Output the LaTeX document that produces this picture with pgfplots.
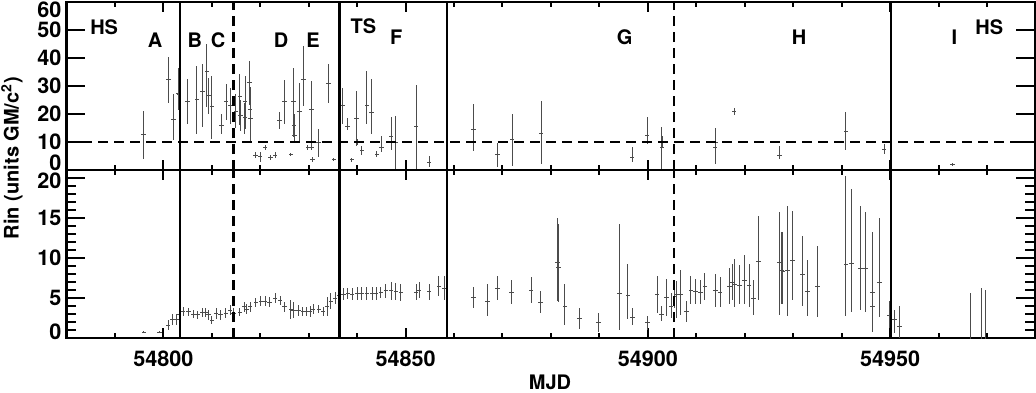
\documentclass[border=0pt]{standalone}
\usepackage{pgfplots}
\pgfplotsset{compat=1.18}
\usepackage{pgfplotstable}
\usepackage{fontspec}
\setmainfont{TeX Gyre Heros}

\pgfplotstableread{
x y ex ep em
54795.9 12.6 0.45 8.6 8.7
54801.1 32.4 0.45 7.9 8.3
54802.1 18.0 0.45 9.1 7.4
54803.1 27.5 0.45 8.8 6.1
54803.3 27.0 0.45 9.0 5.0
54805.0 24.5 0.45 7.9 8.0
54806.9 25.3 0.45 11.8 12.3
54808.1 27.9 0.45 9.8 12.6
54809.0 35.3 0.45 9.6 12.9
54809.3 26.5 0.45 6.5 6.5
54810.0 22.6 0.45 11.0 11.4
54812.0 15.9 0.45 4.1 2.9
54813.0 24.4 0.45 6.2 6.7
54813.9 23.0 0.45 6.4 6.5
54815.0 21.0 0.45 6.0 6.0
54815.8 26.3 0.45 7.9 10.4
54815.9 19.5 0.45 5.5 5.5
54816.9 24.4 0.45 9.2 9.7
54816.8 18.6 0.45 5.4 5.6
54817.8 31.2 0.45 7.9 8.0
54817.9 21.5 0.45 8.0 8.0
54818.0 18.3 0.45 8.7 8.3
54819.0 5.3 0.45 1.0 1.0
54820.0 4.7 0.45 1.8 1.8
54821.0 8.0 0.45 1.0 1.0
54822.1 4.4 0.45 0.8 0.8
54823.1 5.3 0.45 1.0 1.0
54824.0 17.7 0.45 2.9 3.0
54825.0 24.4 0.45 7.6 7.9
54826.3 5.6 0.45 0.5 0.5
54826.9 24.6 0.45 11.7 12.8
54827.0 16.0 0.45 4.0 4.0
54827.1 12.4 0.45 2.0 2.0
54828.1 20.8 0.45 10.4 10.8
54828.9 32.4 0.45 11.8 9.4
54829.8 8.0 0.45 1.0 1.0
54830.6 21.5 0.45 10.3 12.1
54830.6 8.2 0.45 1.0 1.0
54830.8 3.8 0.45 1.0 1.0
54832.0 10.0 0.45 4.8 5.3
54834.1 30.8 0.45 6.9 6.7
54835.2 3.8 0.45 0.6 0.6
54837.0 23.0 0.45 6.4 6.5
54838.0 15.7 0.45 2.9 1.3
54838.9 3.6 0.45 0.6 0.6
54839.9 18.5 0.45 9.8 10.1
54840.0 10.0 0.45 1.0 1.0
54841.0 7.0 0.45 1.5 1.5
54842.0 23.0 0.45 12.5 6.5
54843.0 20.5 0.45 12.0 7.5
54844.1 5.7 0.45 1.0 1.0
54845.0 8.2 0.45 4.0 1.8
54847.0 12.1 0.45 6.8 5.0
54848.0 10.0 0.45 9.2 10.0
54852.2 15.4 0.45 14.8 15.4
54854.9 2.7 0.45 2.3 1.6
54864.0 14.5 0.45 9.1 7.7
54869.0 5.6 0.45 4.1 4.4
54872.0 10.8 0.45 9.2 9.3
54878.0 13.0 0.45 11.7 11.0
54896.8 4.4 0.45 3.8 1.7
54899.9 12.4 0.45 6.7 3.0
54902.9 8.2 0.45 7.1 8.2
54903.1 10.0 0.45 2.0 2.0
54913.9 8.2 0.45 6.8 5.9
54914.0 10.0 0.45 3.0 3.0
54917.8 20.8 0.45 1.2 1.2
54927.2 5.3 0.45 3.2 1.5
54940.9 13.8 0.45 6.8 6.8
54948.8 7.4 0.45 2.0 1.8
54962.9 2.0 0.45 0.6 0.6
}\topdata

\pgfplotstableread{
x y ex ep em
54796.0 0.75 0.45 0.1 0.1
54799.2 0.75 0.45 0.15 0.15
54801.0 1.6 0.45 0.6 0.6
54801.9 2.3 0.45 0.7 0.7
54802.7 2.3 0.45 0.7 0.7
54803.3 3.0 0.45 0.8 0.8
54804.1 3.3 0.45 0.6 0.6
54805.2 3.3 0.45 0.5 0.5
54806.2 3.0 0.45 0.5 0.5
54807.1 2.9 0.45 0.5 0.5
54808.1 3.2 0.45 0.6 0.6
54808.8 3.2 0.45 0.6 0.6
54809.3 2.9 0.45 0.6 0.6
54810.0 2.2 0.45 0.5 0.5
54810.9 3.1 0.45 0.7 0.7
54811.8 2.9 0.45 0.6 0.6
54812.9 3.1 0.45 0.6 0.6
54813.8 3.5 0.45 0.6 0.6
54814.5 3.1 0.45 0.6 0.6
54815.8 3.2 0.45 0.5 0.5
54816.7 3.9 0.45 0.6 0.6
54817.2 3.6 0.45 0.6 0.6
54817.9 3.9 0.45 0.6 0.6
54819.1 4.45 0.45 0.6 0.6
54820.1 4.6 0.45 0.6 0.6
54821.0 4.6 0.45 0.6 0.6
54821.9 4.5 0.45 0.6 0.6
54823.1 5.0 0.45 0.6 0.6
54824.1 4.7 0.45 0.6 0.6
54825.0 3.9 0.45 0.6 0.6
54826.3 3.6 0.45 1.2 1.2
54826.9 3.45 0.45 1.0 1.0
54827.9 3.45 0.45 0.7 0.7
54828.8 3.3 0.45 0.6 0.6
54829.6 3.3 0.45 0.6 0.6
54830.3 3.3 0.45 0.7 0.7
54830.9 3.6 0.45 0.6 0.6
54832.1 3.6 0.45 0.5 0.5
54833.0 3.3 0.45 0.6 0.6
54833.8 3.9 0.45 1.2 1.2
54834.6 4.6 0.45 1.0 1.0
54835.5 5.0 0.45 0.8 0.8
54836.2 5.3 0.45 0.8 0.8
54837.2 5.5 0.45 0.7 0.7
54838.1 5.6 0.45 0.7 0.7
54839.0 5.5 0.45 0.8 0.8
54840.1 5.6 0.45 0.8 0.8
54841.0 5.6 0.45 0.8 0.8
54842.0 5.6 0.45 0.8 0.8
54843.1 5.6 0.45 0.8 0.8
54843.9 5.6 0.45 0.8 0.8
54844.9 5.7 0.45 0.7 0.7
54845.9 5.9 0.45 0.9 0.9
54847.0 5.9 0.45 1.1 1.1
54848.0 5.8 0.45 1.1 1.1
54849.0 5.7 0.45 1.1 1.1
54852.2 5.7 0.45 1.0 1.0
54852.8 6.0 0.45 1.0 1.0
54854.9 5.8 0.45 1.0 1.0
54856.9 6.5 0.45 1.2 1.2
54858.0 6.25 0.45 1.5 1.5
54864.0 5.1 0.5 1.3 1.3
54866.9 4.6 0.5 2.1 1.9
54869.0 6.25 0.5 1.45 1.45
54871.9 5.75 0.5 1.45 1.45
54875.9 5.95 0.5 1.65 1.55
54877.9 4.5 0.5 1.4 1.4
54881.4 9.45 0.5 5.55 4.85
54881.6 8.8 0.5 5.4 4.35
54882.9 3.9 0.5 2.85 2.3
54885.9 2.4 0.5 1.35 1.3
54889.9 1.95 0.5 1.15 1.15
54894.1 5.6 0.5 8.6 4.6
54895.9 5.3 0.5 4.0 2.9
54896.9 2.6 0.5 1.1 1.0
54899.9 2.0 0.5 0.8 1.0
54901.9 5.4 0.5 2.4 2.3
54902.9 3.0 0.5 1.0 0.9
54903.9 5.1 0.5 2.3 2.3
54904.8 4.0 0.5 1.6 1.5
54905.6 5.2 0.5 1.5 1.5
54906.0 5.4 0.5 1.7 2.9
54906.8 5.5 0.5 2.95 2.6
54907.9 3.3 0.5 1.3 1.3
54908.9 6.0 0.5 1.8 1.8
54909.8 5.8 0.5 1.6 1.6
54910.8 5.75 0.5 1.55 1.45
54911.8 6.45 0.5 1.65 1.65
54913.9 5.9 0.5 2.1 2.0
54914.9 5.7 0.5 1.9 1.8
54916.9 6.45 0.5 2.3 2.15
54917.4 6.95 0.5 2.35 2.15
54917.9 6.75 0.5 3.15 2.85
54918.9 6.55 0.5 2.55 2.35
54919.9 7.15 0.5 3.25 2.9
54920.9 6.55 0.5 2.75 2.65
54921.9 4.9 0.5 2.3 2.0
54922.9 9.6 0.5 5.7 4.9
54927.2 9.5 0.5 6.3 6.6
54927.6 8.4 0.5 4.85 4.1
54927.9 8.3 0.5 4.95 4.0
54928.8 8.5 0.5 8.0 5.8
54929.9 9.7 0.5 6.2 5.0
54932.0 7.9 0.5 4.9 3.95
54932.9 5.8 0.5 3.9 3.1
54935.0 6.4 0.5 5.1 3.8
54940.9 9.25 0.5 10.95 6.55
54942.0 9.3 0.5 9.3 6.1
54943.9 8.65 0.5 7.85 5.2
54944.9 8.65 0.5 7.15 5.45
54946.3 5.7 0.5 7.6 4.9
54946.4 3.95 0.5 1.5 1.5
54947.9 6.95 0.5 8.05 4.35
54949.9 2.8 0.5 1.8 1.55
54950.3 2.3 0.5 1.5 1.5
54951.0 2.3 0.5 1.2 1.7
54952.0 1.45 0.5 2.55 1.45
54966.7 -0.5 0.5 6.1 1.0
54968.8 -0.5 0.5 6.75 1.0
54969.8 -0.5 0.5 6.55 1.0
}\botdata

\pgfplotsset{
  common/.style={
    scale only axis, width=484.5pt, height=84pt,
    xmin=54780, xmax=54980,
    scaled x ticks=false, scaled y ticks=false,
    axis line style={line width=1.3pt},
    tick align=inside,
    xtick={54800,54850,54900,54950},
    minor xtick={54780,54790,54810,54820,54830,54840,54860,54870,54880,54890,54910,54920,54930,54940,54960,54970,54980},
    xtick style={line width=1pt, black, /pgfplots/major tick length=5pt, /pgfplots/minor tick length=2.5pt},
    ytick style={line width=1.2pt, black, /pgfplots/major tick length=9.5pt, /pgfplots/minor tick length=5pt},
    ticklabel style={font=\fontsize{10.8}{13}\selectfont\bfseries},
    yticklabel style={xshift=1pt, inner ysep=0.5pt},
    xticklabel style={yshift=-3pt},
    clip=true,
  },
  errplot/.style={mark=none, draw=none,
    error bars/.cd, x dir=both, x explicit, y dir=both, y explicit,
    error bar style={draw=black!70, line width=0.5pt, solid}, error mark=none},
  solidv/.style={line width=1.2pt, black, mark=none},
  dashv/.style={line width=1.2pt, black, mark=none, dash pattern=on 5pt off 3pt},
}

\begin{document}
\begin{tikzpicture}[font=\fontsize{10}{12}\selectfont\bfseries]
\path[use as bounding box] (0,0) rectangle (518pt,196pt);
% top panel
\begin{axis}[common, at={(33.2pt,111pt)}, anchor=south west,
  ymin=0, ymax=60, ytick={0,10,20,30,40,50,60},
  yticklabels={{\raisebox{3.5pt}[\height][\depth]{0}},10,20,30,40,50,{\raisebox{-4pt}[\height][\depth]{60}}},
  xticklabels={}]
\addplot[errplot] table[x=x, y=y, x error=ex, y error plus=ep, y error minus=em]{\topdata};
\addplot[solidv] coordinates {(54803.4,0) (54803.4,60)};
\addplot[dashv] coordinates {(54814.5,0) (54814.5,60)};
\addplot[solidv] coordinates {(54836.4,0) (54836.4,60)};
\addplot[solidv] coordinates {(54858.6,0) (54858.6,60)};
\addplot[dashv] coordinates {(54905.4,0) (54905.4,60)};
\addplot[solidv] coordinates {(54950.2,0) (54950.2,60)};
\addplot[line width=1.2pt, black, mark=none, dash pattern=on 5pt off 3pt] coordinates {(54780,10) (54980,10)};
\node at (axis cs:54787.8,51) {HS};
\node at (axis cs:54798.3,46.5) {A};
\node at (axis cs:54806.5,46.5) {B};
\node at (axis cs:54811.3,46.5) {C};
\node at (axis cs:54824.3,46.5) {D};
\node at (axis cs:54830.9,46.5) {E};
\node at (axis cs:54841.3,51.2) {TS};
\node at (axis cs:54848.1,47.5) {F};
\node at (axis cs:54895.2,47.5) {G};
\node at (axis cs:54931.2,47.5) {H};
\node at (axis cs:54963.3,47.5) {I};
\node at (axis cs:54970.5,51) {HS};
\end{axis}
% bottom panel
\begin{axis}[common, at={(33.2pt,27pt)}, anchor=south west,
  ymin=0, ymax=21, ytick={0,5,10,15,20},
  minor ytick={1,2,3,4,6,7,8,9,11,12,13,14,16,17,18,19},
  yticklabels={{\raisebox{3pt}[\height][\depth]{0}},5,10,15,{\raisebox{-1.5pt}[\height][\depth]{20}}},
  xticklabels={54800,54850,54900,54950}]
\addplot[errplot] table[x=x, y=y, x error=ex, y error plus=ep, y error minus=em]{\botdata};
\addplot[solidv] coordinates {(54803.4,0) (54803.4,21)};
\addplot[dashv] coordinates {(54814.5,0) (54814.5,21)};
\addplot[solidv] coordinates {(54836.4,0) (54836.4,21)};
\addplot[solidv] coordinates {(54858.6,0) (54858.6,21)};
\addplot[dashv] coordinates {(54905.4,0) (54905.4,21)};
\addplot[solidv] coordinates {(54950.2,0) (54950.2,21)};
\end{axis}
\node[rotate=90] at (6pt,117pt) {Rin (units GM/c\textsuperscript{2})};
\node at (275pt,5pt) {MJD};
\end{tikzpicture}
\end{document}
